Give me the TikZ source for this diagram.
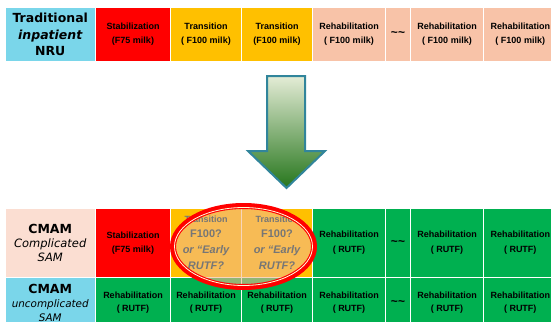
\documentclass[tikz,border=0pt]{standalone}
\usepackage{fontspec}
\setmainfont{Liberation Sans}
\newfontfamily\djv{DejaVu Sans}
\definecolor{cyanc}{RGB}{122,214,234}
\definecolor{redc}{RGB}{255,0,0}
\definecolor{amberc}{RGB}{255,192,0}
\definecolor{peachc}{RGB}{248,195,168}
\definecolor{lpeachc}{RGB}{251,222,210}
\definecolor{greenc}{RGB}{0,176,80}
\definecolor{tealc}{RGB}{49,133,155}
\definecolor{ovl}{RGB}{243,185,142}
\definecolor{grayt}{RGB}{118,118,118}
\tikzset{
  cellbox/.style={draw=white, line width=1.2pt, rectangle, inner sep=0pt, align=center,
    font=\fontsize{9}{14}\selectfont\bfseries, text=black},
  tildes/.style={font=\fontsize{12}{14}\selectfont\bfseries},
  ovtext/.style={text=grayt, font=\fontsize{11}{16}\selectfont\bfseries, align=center, inner sep=0pt},
}
\newcommand\mycell[7]{\node[cellbox, #6, minimum width={#3-#2}, minimum height={#5-#4}] (#1) at ({(#2+#3)/2},{(#4+#5)/2}) {#7};}
\begin{document}
\begin{tikzpicture}[x=1pt,y=-1pt]
\useasboundingbox (0,0) rectangle (551,321);
\clip (0,0) rectangle (551,321);
% top row
\mycell{t1}{5}{95.5}{7}{62}{fill=cyanc, font=\djv\bfseries\fontsize{12.5}{16.5}\selectfont}{Traditional\\{\itshape inpatient}\\NRU}
\mycell{t2}{95.5}{170.5}{7}{62}{fill=redc}{Stabilization\\(F75 milk)}
\mycell{t3}{170.5}{241.5}{7}{62}{fill=amberc}{Transition\\( F100 milk)}
\mycell{t4}{241.5}{312.5}{7}{62}{fill=amberc}{Transition\\(F100 milk)}
\mycell{t5}{312.5}{385.5}{7}{62}{fill=peachc}{Rehabilitation\\( F100 milk)}
\mycell{t6}{385.5}{410.5}{7}{62}{fill=peachc, tildes}{\textasciitilde\textasciitilde}
\mycell{t7}{410.5}{483.5}{7}{62}{fill=peachc}{Rehabilitation\\( F100 milk)}
\mycell{t8}{483.5}{557}{7}{62}{fill=peachc}{Rehabilitation\\( F100 milk)}
% arrow
\draw[draw=tealc, line width=2pt, line join=miter, top color={rgb,255:red,228;green,236;blue,214},
  middle color={rgb,255:red,160;green,196;blue,110}, bottom color={rgb,255:red,38;green,118;blue,28}]
  (267,76) -- (305,76) -- (305,151) -- (325,151) -- (286.5,188) -- (248,151) -- (267,151) -- cycle;
% bottom row 1
\mycell{a1}{5}{95.5}{208}{277.5}{fill=lpeachc}{{\djv\bfseries\fontsize{12.5}{14}\selectfont CMAM}\\{\djv\mdseries\itshape\fontsize{11.5}{14}\selectfont Complicated}\\{\djv\mdseries\itshape\fontsize{11.5}{14}\selectfont SAM}}
\mycell{a2}{95.5}{170.5}{208}{277.5}{fill=redc}{Stabilization\\(F75 milk)}
\mycell{a3}{170.5}{241.5}{208}{277.5}{fill=amberc}{}
\mycell{a4}{241.5}{312.5}{208}{277.5}{fill=amberc}{}
\mycell{a5}{312.5}{385.5}{208}{277.5}{fill=greenc, font=\fontsize{9}{15}\selectfont\bfseries}{Rehabilitation\\( RUTF)}
\mycell{a6}{385.5}{410.5}{208}{277.5}{fill=greenc, tildes}{\textasciitilde\textasciitilde}
\mycell{a7}{410.5}{483.5}{208}{277.5}{fill=greenc, font=\fontsize{9}{15}\selectfont\bfseries}{Rehabilitation\\( RUTF)}
\mycell{a8}{483.5}{557}{208}{277.5}{fill=greenc, font=\fontsize{9}{15}\selectfont\bfseries}{Rehabilitation\\( RUTF)}
% bottom row 2
\mycell{b1}{5}{95.5}{277.5}{328}{fill=cyanc}{{\djv\bfseries\fontsize{12.5}{14}\selectfont CMAM}\\{\djv\mdseries\itshape\fontsize{10.4}{14}\selectfont uncomplicated}\\{\djv\mdseries\itshape\fontsize{10.4}{14}\selectfont SAM}}
\mycell{b2}{95.5}{170.5}{277.5}{328}{fill=greenc, font=\fontsize{9}{12.5}\selectfont\bfseries}{Rehabilitation\\( RUTF)}
\mycell{b3}{170.5}{241.5}{277.5}{328}{fill=greenc, font=\fontsize{9}{12.5}\selectfont\bfseries}{Rehabilitation\\( RUTF)}
\mycell{b4}{241.5}{312.5}{277.5}{328}{fill=greenc, font=\fontsize{9}{12.5}\selectfont\bfseries}{Rehabilitation\\( RUTF)}
\mycell{b5}{312.5}{385.5}{277.5}{328}{fill=greenc, font=\fontsize{9}{12.5}\selectfont\bfseries}{Rehabilitation\\( RUTF)}
\mycell{b6}{385.5}{410.5}{277.5}{328}{fill=greenc, tildes}{\textasciitilde\textasciitilde}
\mycell{b7}{410.5}{483.5}{277.5}{328}{fill=greenc, font=\fontsize{9}{12.5}\selectfont\bfseries}{Rehabilitation\\( RUTF)}
\mycell{b8}{483.5}{557}{277.5}{328}{fill=greenc, font=\fontsize{9}{12.5}\selectfont\bfseries}{Rehabilitation\\( RUTF)}
% highlight ellipse
\fill[ovl, fill opacity=0.6] (243.5,246.5) ellipse [x radius=72pt, y radius=42pt];
\node[ovtext, font=\fontsize{9}{10}\selectfont\bfseries] (x1) at (206,219) {Transition};
\node[ovtext, font=\fontsize{9}{10}\selectfont\bfseries] (x2) at (277,219) {Transition};
\node[ovtext] (y1) at (206,249.5) {F100?\\{\itshape or “Early}\\{\itshape RUTF?}};
\node[ovtext] (y2) at (277,249.5) {F100?\\{\itshape or “Early}\\{\itshape RUTF?}};
\draw[redc, line width=6pt] (243.5,246.5) ellipse [x radius=70.5pt, y radius=40.5pt];
\draw[white!85!yellow, line width=0.8pt] (243.5,246.5) ellipse [x radius=69pt, y radius=39pt];
\end{tikzpicture}
\end{document}
